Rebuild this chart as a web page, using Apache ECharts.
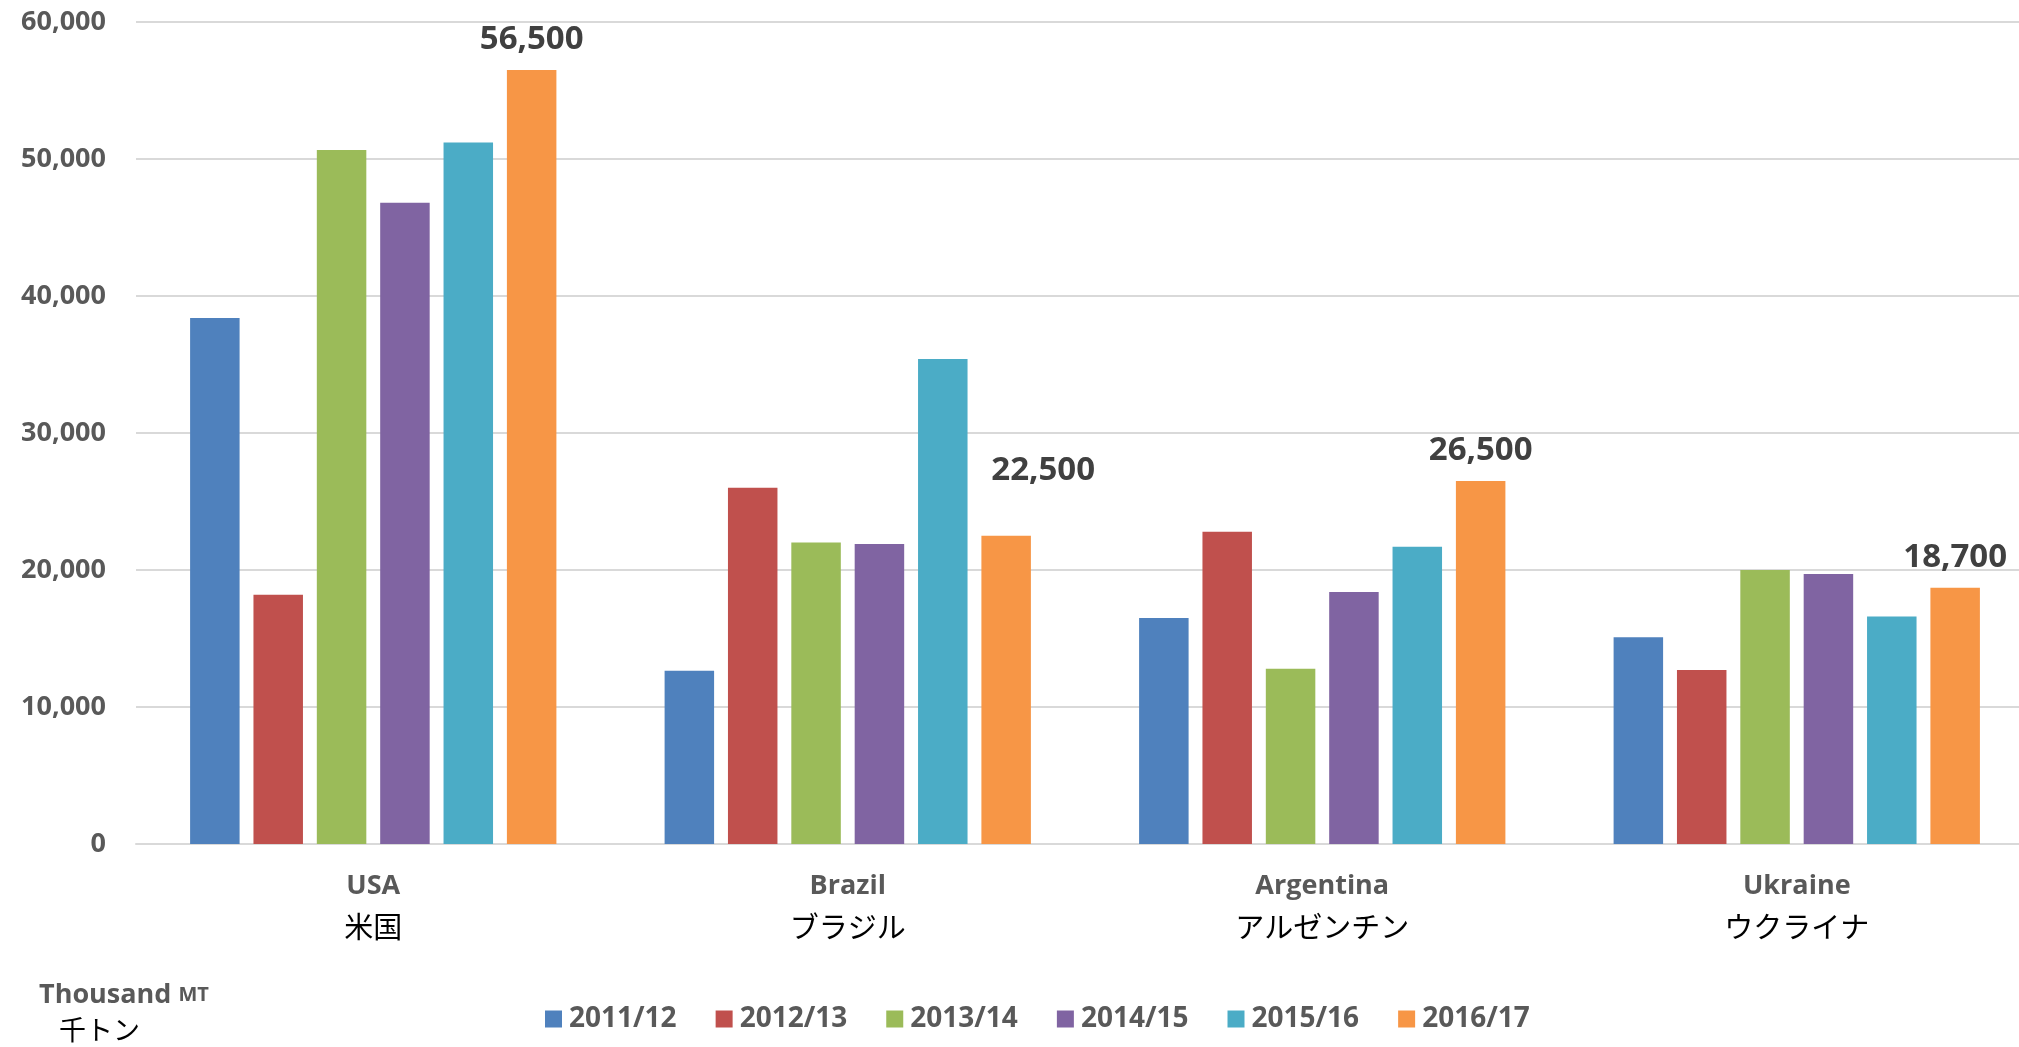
<!DOCTYPE html>
<html>
<head>
<meta charset="utf-8">
<script src="https://cdn.jsdelivr.net/npm/echarts@6/dist/echarts.min.js"></script>
<style>
html,body{margin:0;padding:0;background:#fff;}
#chart{width:2019px;height:1047px;}
</style>
</head>
<body>
<div id="chart"></div>
<script>
// ---- data ----
var categoriesEn = ['USA', 'Brazil', 'Argentina', 'Ukraine'];
var categoriesJa = ['米国', 'ブラジル', 'アルゼンチン', 'ウクライナ'];
var seriesNames = ['2011/12', '2012/13', '2013/14', '2014/15', '2015/16', '2016/17'];
var v2011 = [38400, 12650, 16500, 15100];
var v2012 = [18200, 26000, 22800, 12700];
var v2013 = [50650, 22000, 12800, 20000];
var v2014 = [46800, 21900, 18400, 19700];
var v2015 = [51200, 35400, 21700, 16600];
var v2016 = [56500, 22500, 26500, 18700];
var yTicks = [0, 10000, 20000, 30000, 40000, 50000, 60000];
var unitEn = 'Thousand';
var unitEnSmall = 'MT';
var unitJa = '千トン';

var allValues = [v2011, v2012, v2013, v2014, v2015, v2016];
var colors = ['#4F81BD', '#C0504D', '#9BBB59', '#8064A2', '#4BACC6', '#F79646'];

function fmt(n) { return String(n).replace(/\B(?=(\d{3})+(?!\d))/g, ','); }

var chart = echarts.init(document.getElementById('chart'));

var series = seriesNames.map(function (name, i) {
  var isLast = i === seriesNames.length - 1;
  var data = allValues[i].map(function (v, j) {
    var item = { value: v };
    if (isLast && j === 1) {
      item.label = { offset: [37, -35] };
    }
    return item;
  });
  return {
    name: name,
    type: 'bar',
    data: data,
    barWidth: 49.5,
    barGap: '28%',
    itemStyle: { color: colors[i] },
    label: isLast ? {
      show: true,
      position: 'top',
      distance: 14,
      formatter: function (p) { return fmt(p.value); },
      fontFamily: 'Open Sans',
      fontWeight: 'bold',
      fontSize: 33,
      color: '#404040'
    } : { show: false }
  };
});

var option = {
  animation: false,
  backgroundColor: '#ffffff',
  color: colors,
  grid: { left: 136, top: 22, width: 1898, bottom: 203, containLabel: false, outerBoundsMode: 'none' },
  legend: {
    data: seriesNames,
    left: 540,
    top: 1000,
    icon: 'rect',
    itemWidth: 17,
    itemHeight: 17,
    itemGap: 39,
    textStyle: {
      fontFamily: 'Open Sans',
      fontWeight: 'bold',
      fontSize: 28,
      color: '#595959',
      padding: [0, 0, 0, 2]
    }
  },
  xAxis: {
    type: 'category',
    data: categoriesEn,
    axisTick: { show: false },
    axisLine: { show: true, lineStyle: { color: '#d9d9d9', width: 2 } },
    axisLabel: {
      margin: 22,
      formatter: function (val, idx) {
        return '{en|' + val + '}\n{ja|' + categoriesJa[idx] + '}';
      },
      rich: {
        en: { fontFamily: 'Open Sans', fontWeight: 'bold', fontSize: 27, color: '#595959', lineHeight: 40 },
        ja: { fontFamily: 'Noto Sans CJK JP', fontSize: 29, color: '#000000', lineHeight: 42 }
      }
    }
  },
  yAxis: {
    type: 'value',
    min: yTicks[0],
    max: yTicks[yTicks.length - 1],
    interval: yTicks[1] - yTicks[0],
    axisLine: { show: false },
    axisTick: { show: false },
    splitLine: { lineStyle: { color: '#d9d9d9', width: 2 } },
    axisLabel: {
      margin: 30,
      formatter: function (v) { return fmt(v); },
      fontFamily: 'Open Sans',
      fontWeight: 'bold',
      fontSize: 27,
      color: '#595959'
    }
  },
  graphic: [
    {
      type: 'text',
      left: 39,
      top: 982,
      style: {
        text: '{a|' + unitEn + ' }{b|' + unitEnSmall + '}',
        rich: {
          a: { fontFamily: 'Open Sans', fontWeight: 'bold', fontSize: 27, fill: '#595959' },
          b: { fontFamily: 'Open Sans', fontWeight: 'bold', fontSize: 20, fill: '#595959' }
        }
      }
    },
    {
      type: 'text',
      left: 59,
      top: 1016,
      style: {
        text: unitJa,
        fontFamily: 'Noto Sans CJK JP',
        fontSize: 27,
        fill: '#000000'
      }
    }
  ],
  series: series
};

chart.setOption(option);
</script>
</body>
</html>
